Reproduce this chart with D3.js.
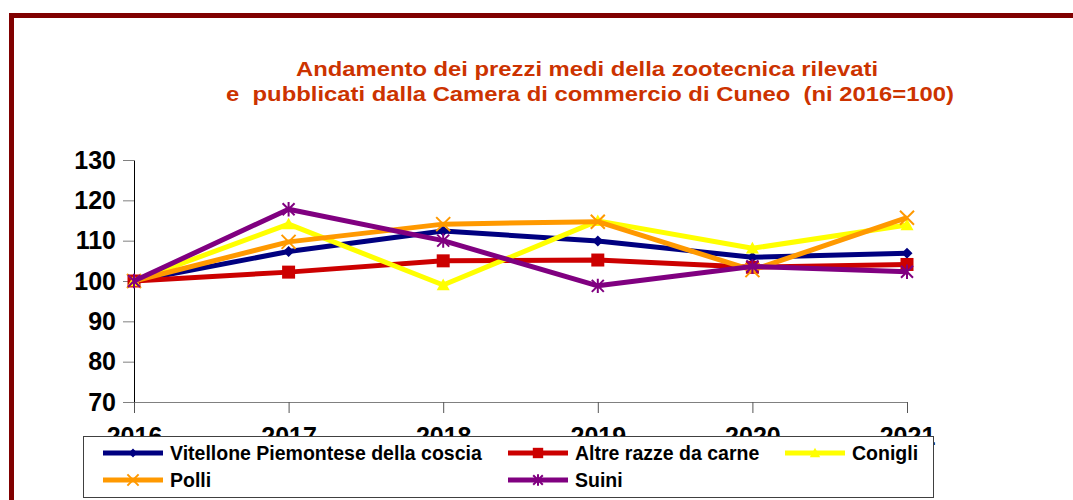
<!DOCTYPE html>
<html lang="it">
  <head>
    <meta charset="UTF-8" />
    <script src="https://d3js.org/d3.v7.min.js"></script>
    <style>
      body { margin: 0; background: #fff; }
      text { font-family: "Liberation Sans", Arial, sans-serif; font-weight: bold; }
    </style>
  </head>
  <body>
    <svg id="chart" width="1073" height="500"></svg>
    <script>
      // data
      const years = ["2016", "2017", "2018", "2019", "2020", "2021"];
      const yTicks = [70, 80, 90, 100, 110, 120, 130];
      const vitellone = [100, 107.3, 112.4, 109.9, 105.9, 106.9];
      const altreRazze = [100, 102.2, 105.0, 105.2, 103.4, 104.1];
      const conigli = [100, 114.1, 99.0, 114.9, 108.1, 113.9];
      const polli = [100, 109.7, 114.1, 114.7, 102.7, 115.7];
      const suini = [100, 117.8, 110.0, 98.8, 103.6, 102.3];

      const series = [
        { name: "Vitellone Piemontese della coscia", values: vitellone, color: "#000080", marker: "diamond" },
        { name: "Altre razze da carne", values: altreRazze, color: "#CC0000", marker: "square" },
        { name: "Conigli", values: conigli, color: "#FFFF00", marker: "triangle" },
        { name: "Polli", values: polli, color: "#FF9900", marker: "x" },
        { name: "Suini", values: suini, color: "#800080", marker: "star" }
      ];

      const svg = d3.select("#chart");

      // outer frame
      svg.append("rect")
        .attr("x", 11.5).attr("y", 15.5)
        .attr("width", 1200).attr("height", 700)
        .attr("fill", "#fff")
        .attr("stroke", "#800000")
        .attr("stroke-width", 5);

      // title (stretched wide like the original)
      const title = svg.append("text")
        .attr("text-anchor", "middle")
        .attr("fill", "#CC3300")
        .style("font-size", "21px")
        .style("white-space", "pre");
      title.append("tspan").attr("x", 587).attr("y", 76)
        .attr("textLength", 582).attr("lengthAdjust", "spacingAndGlyphs")
        .text("Andamento dei prezzi medi della zootecnica rilevati");
      title.append("tspan").attr("x", 590).attr("y", 101)
        .attr("textLength", 728).attr("lengthAdjust", "spacingAndGlyphs")
        .text("e  pubblicati dalla Camera di commercio di Cuneo  (ni 2016=100)");

      const x = d3.scalePoint().domain(years).range([134, 907]);
      const y = d3.scaleLinear().domain([70, 130]).range([402, 160]);

      // y axis
      const yAxis = svg.append("g")
        .attr("transform", "translate(134,0)")
        .call(d3.axisLeft(y).tickValues(yTicks).tickSize(11).tickSizeOuter(0).tickPadding(7));
      yAxis.select(".domain").attr("stroke", "#000");
      yAxis.selectAll(".tick line").attr("stroke", "#808080");
      yAxis.selectAll(".tick text")
        .attr("fill", "#000")
        .style("font-size", "25px");

      // x axis
      const xAxis = svg.append("g")
        .attr("transform", "translate(0,402)")
        .call(d3.axisBottom(x).tickSize(11).tickSizeOuter(0).tickPadding(14));
      xAxis.select(".domain").attr("stroke", "#808080");
      xAxis.selectAll(".tick line").attr("stroke", "#555");
      xAxis.selectAll(".tick text")
        .attr("fill", "#000")
        .style("font-size", "25px");

      // marker shapes
      function markerPath(type, s) {
        const h = s / 2;
        if (type === "diamond") return `M0,${-h}L${h},0L0,${h}L${-h},0Z`;
        if (type === "square") return `M${-h},${-h}H${h}V${h}H${-h}Z`;
        if (type === "triangle") return `M0,${-h}L${h},${h * 0.8}L${-h},${h * 0.8}Z`;
        if (type === "x") return `M${-h},${-h}L${h},${h}M${h},${-h}L${-h},${h}`;
        // star / asterisk
        return `M${-h},${-h}L${h},${h}M${h},${-h}L${-h},${h}M0,${-h * 1.2}V${h * 1.2}`;
      }
      const markerSize = { diamond: 11, square: 13, triangle: 13, x: 14, star: 12 };
      const stroked = t => t === "x" || t === "star";

      const line = d3.line()
        .x((d, i) => x(years[i]))
        .y(d => y(d));

      series.forEach(s => {
        const g = svg.append("g");
        g.append("path")
          .datum(s.values)
          .attr("d", line)
          .attr("fill", "none")
          .attr("stroke", s.color)
          .attr("stroke-width", 5)
          .attr("stroke-linejoin", "round");
        g.selectAll("path.m")
          .data(s.values)
          .join("path")
          .attr("class", "m")
          .attr("transform", (d, i) => `translate(${x(years[i])},${y(d)})`)
          .attr("d", markerPath(s.marker, markerSize[s.marker]))
          .attr("fill", stroked(s.marker) ? "none" : s.color)
          .attr("stroke", s.color)
          .attr("stroke-width", stroked(s.marker) ? 2 : 0);
      });

      // legend
      const legend = svg.append("g");
      legend.append("rect")
        .attr("x", 83.5).attr("y", 436.5)
        .attr("width", 850).attr("height", 61)
        .attr("fill", "#fff")
        .attr("stroke", "#404040")
        .attr("stroke-width", 1);

      const colX = [103, 508, 785];
      const rowY = [453, 480];
      series.forEach((s, i) => {
        const lx = colX[i % 3], ly = rowY[Math.floor(i / 3)];
        const item = legend.append("g");
        item.append("line")
          .attr("x1", lx).attr("x2", lx + 60)
          .attr("y1", ly).attr("y2", ly)
          .attr("stroke", s.color)
          .attr("stroke-width", 5);
        item.append("path")
          .attr("transform", `translate(${lx + 30},${ly})`)
          .attr("d", markerPath(s.marker, markerSize[s.marker] * 0.8))
          .attr("fill", stroked(s.marker) ? "none" : s.color)
          .attr("stroke", s.color)
          .attr("stroke-width", stroked(s.marker) ? 2 : 0);
        item.append("text")
          .attr("x", lx + 67)
          .attr("y", ly + 7)
          .attr("fill", "#000")
          .style("font-size", "19.5px")
          .text(s.name);
      });
    </script>
  </body>
</html>
